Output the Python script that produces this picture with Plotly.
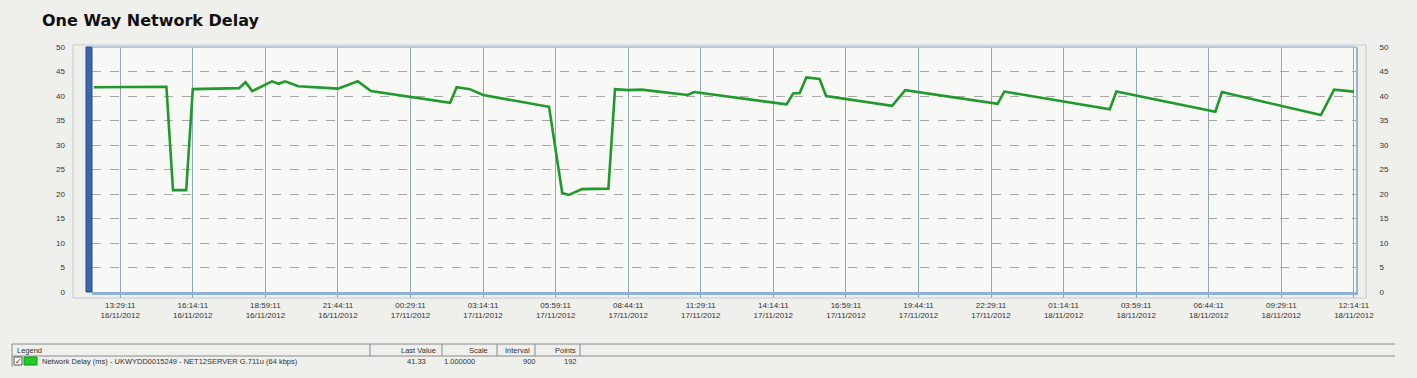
import plotly.graph_objects as go

# ---- data ----
times = [
    "2012-11-16 12:29:11", "2012-11-16 15:14:11", "2012-11-16 15:29:11", "2012-11-16 15:59:11",
    "2012-11-16 16:14:11", "2012-11-16 17:59:11", "2012-11-16 18:14:11", "2012-11-16 18:29:11",
    "2012-11-16 19:14:11", "2012-11-16 19:29:11", "2012-11-16 19:44:11", "2012-11-16 20:14:11",
    "2012-11-16 21:44:11", "2012-11-16 22:29:11", "2012-11-16 22:59:11", "2012-11-17 01:59:11",
    "2012-11-17 02:14:11", "2012-11-17 02:44:11", "2012-11-17 03:14:11", "2012-11-17 05:44:11",
    "2012-11-17 06:14:11", "2012-11-17 06:29:11", "2012-11-17 06:59:11", "2012-11-17 07:59:11",
    "2012-11-17 08:14:11", "2012-11-17 08:44:11", "2012-11-17 09:14:11", "2012-11-17 10:59:11",
    "2012-11-17 11:14:11", "2012-11-17 14:44:11", "2012-11-17 14:59:11", "2012-11-17 15:14:11",
    "2012-11-17 15:29:11", "2012-11-17 15:59:11", "2012-11-17 16:14:11", "2012-11-17 18:44:11",
    "2012-11-17 19:14:11", "2012-11-17 22:44:11", "2012-11-17 22:59:11", "2012-11-18 02:59:11",
    "2012-11-18 03:14:11", "2012-11-18 06:59:11", "2012-11-18 07:14:11", "2012-11-18 10:59:11",
    "2012-11-18 11:29:11", "2012-11-18 12:14:11",
]
delay_ms = [
    41.8, 41.9, 20.8, 20.8,
    41.4, 41.6, 42.8, 41.0,
    43.0, 42.5, 43.0, 42.0,
    41.5, 43.0, 41.0, 38.6,
    41.8, 41.4, 40.2, 37.8,
    20.2, 19.8, 21.0, 21.1,
    41.4, 41.2, 41.3, 40.2,
    40.8, 38.3, 40.5, 40.6,
    43.8, 43.5, 40.0, 38.0,
    41.2, 38.4, 40.9, 37.3,
    40.9, 36.8, 40.8, 36.1,
    41.3, 40.9,
]

tick_times = [
    "2012-11-16 13:29:11", "2012-11-16 16:14:11", "2012-11-16 18:59:11", "2012-11-16 21:44:11",
    "2012-11-17 00:29:11", "2012-11-17 03:14:11", "2012-11-17 05:59:11", "2012-11-17 08:44:11",
    "2012-11-17 11:29:11", "2012-11-17 14:14:11", "2012-11-17 16:59:11", "2012-11-17 19:44:11",
    "2012-11-17 22:29:11", "2012-11-18 01:14:11", "2012-11-18 03:59:11", "2012-11-18 06:44:11",
    "2012-11-18 09:29:11", "2012-11-18 12:14:11",
]
tick_labels = [
    "13:29:11<br>16/11/2012", "16:14:11<br>16/11/2012", "18:59:11<br>16/11/2012", "21:44:11<br>16/11/2012",
    "00:29:11<br>17/11/2012", "03:14:11<br>17/11/2012", "05:59:11<br>17/11/2012", "08:44:11<br>17/11/2012",
    "11:29:11<br>17/11/2012", "14:14:11<br>17/11/2012", "16:59:11<br>17/11/2012", "19:44:11<br>17/11/2012",
    "22:29:11<br>17/11/2012", "01:14:11<br>18/11/2012", "03:59:11<br>18/11/2012", "06:44:11<br>18/11/2012",
    "09:29:11<br>18/11/2012", "12:14:11<br>18/11/2012",
]
y_ticks = [0, 5, 10, 15, 20, 25, 30, 35, 40, 45, 50]

legend_series = "Network Delay (ms) - UKWYDD0015249 - NET12SERVER G.711u (64 kbps)"
legend_headers = ["Last Value", "Scale", "Interval", "Points"]
legend_values = ["41.33", "1.000000", "900", "192"]

# ---- layout geometry ----
WIDTH, HEIGHT = 1417, 378
L, R, T, B = 92, 61, 47, 86
PW = WIDTH - L - R
PH = HEIGHT - T - B


def px(x):
    return (x - L) / PW


def py(y):
    return (HEIGHT - B - y) / PH


GREEN = "#1f9a2b"
TXT = "#333333"
FONT = "Liberation Sans"

fig = go.Figure()
fig.add_trace(go.Scatter(
    x=times, y=delay_ms, mode="lines",
    line=dict(color=GREEN, width=2.6), showlegend=False, hoverinfo="x+y",
))
# same series on the right-hand axis (invisible) so the mirrored axis is drawn
fig.add_trace(go.Scatter(
    x=times, y=delay_ms, mode="lines", yaxis="y2",
    line=dict(color="rgba(0,0,0,0)", width=0), showlegend=False, hoverinfo="skip",
))

axis_font = dict(family=FONT, size=8, color=TXT)
fig.update_layout(
    width=WIDTH, height=HEIGHT,
    margin=dict(l=L, r=R, t=T, b=B),
    paper_bgcolor="#efefec",
    plot_bgcolor="#f8f8f6",
    xaxis=dict(
        type="date",
        range=["2012-11-16 12:25:00", "2012-11-18 12:19:00"],
        tickmode="array", tickvals=tick_times, ticktext=tick_labels,
        tickfont=axis_font, ticks="outside", ticklen=3, tickcolor="#7a9cc0",
        showgrid=True, gridcolor="#8ea6c0", gridwidth=1,
        showline=True, linecolor="#8fb2d4", linewidth=3,
        zeroline=False, fixedrange=True,
    ),
    yaxis=dict(
        range=[0, 50], tickmode="array", tickvals=y_ticks,
        tickfont=axis_font, ticklabelstandoff=26,
        showgrid=True, gridcolor="#a8a8a8", gridwidth=1, griddash="dash",
        showline=False, zeroline=False, fixedrange=True,
    ),
    yaxis2=dict(
        range=[0, 50], tickmode="array", tickvals=y_ticks, overlaying="y", side="right",
        tickfont=axis_font, ticklabelstandoff=20,
        showgrid=False, showline=True, linecolor="#9bb3c9", linewidth=2,
        zeroline=False, fixedrange=True,
    ),
)

shapes = []
# left 3D wall (blue band)
shapes.append(dict(type="rect", xref="paper", yref="paper", x0=px(86), x1=px(92), y0=0, y1=1,
                   fillcolor="#3b68ad", line=dict(color="#2d4f8a", width=1)))
# outer light frame
shapes.append(dict(type="rect", xref="paper", yref="paper", x0=px(73), x1=px(1366), y0=py(298), y1=py(45),
                   fillcolor="rgba(0,0,0,0)", line=dict(color="#c3ccd4", width=1)))
# top border of plot
shapes.append(dict(type="line", xref="paper", yref="paper", x0=0, x1=1, y0=1, y1=1,
                   line=dict(color="#a9bccd", width=1.5)))

# legend table lines
LINE = dict(color="#8a8a8a", width=1)
for yy in (344, 356):
    shapes.append(dict(type="line", xref="paper", yref="paper", x0=px(12), x1=px(1395),
                       y0=py(yy), y1=py(yy), line=LINE))
for xx in (12, 370, 442, 497, 535, 580):
    shapes.append(dict(type="line", xref="paper", yref="paper", x0=px(xx), x1=px(xx),
                       y0=py(344), y1=py(356), line=LINE))
shapes.append(dict(type="line", xref="paper", yref="paper", x0=px(12), x1=px(12),
                   y0=py(356), y1=py(367), line=LINE))
# checkbox and colour swatch
shapes.append(dict(type="rect", xref="paper", yref="paper", x0=px(14), x1=px(22), y0=py(365), y1=py(357),
                   fillcolor="#ffffff", line=dict(color="#555555", width=1)))
shapes.append(dict(type="rect", xref="paper", yref="paper", x0=px(24), x1=px(37), y0=py(365), y1=py(357),
                   fillcolor="#22cc22", line=dict(color="#119911", width=1)))
fig.update_layout(shapes=shapes)

ann = []
ann.append(dict(text="<b>One Way Network Delay</b>", xref="paper", yref="paper",
                x=px(40), y=py(20), xanchor="left", yanchor="middle", showarrow=False,
                font=dict(family="DejaVu Sans", size=16, color="#111111")))
small = dict(family=FONT, size=7.5, color=TXT)
ann.append(dict(text="Legend", xref="paper", yref="paper", x=px(15), y=py(350),
                xanchor="left", yanchor="middle", showarrow=False, font=small))
header_x = [438, 490, 517, 565]
header_anchor = ["right", "right", "center", "center"]
for h, hx, ha in zip(legend_headers, header_x, header_anchor):
    ann.append(dict(text=h, xref="paper", yref="paper", x=px(hx), y=py(350),
                    xanchor=ha, yanchor="middle", showarrow=False, font=small))
ann.append(dict(text="✓", xref="paper", yref="paper", x=px(18), y=py(361),
                xanchor="center", yanchor="middle", showarrow=False,
                font=dict(family="DejaVu Sans", size=8, color="#222222")))
ann.append(dict(text=legend_series, xref="paper", yref="paper", x=px(40), y=py(361),
                xanchor="left", yanchor="middle", showarrow=False, font=small))
value_x = [416, 459, 529, 570]
for v, vx in zip(legend_values, value_x):
    ann.append(dict(text=v, xref="paper", yref="paper", x=px(vx), y=py(361),
                    xanchor="center", yanchor="middle", showarrow=False, font=small))
fig.update_layout(annotations=ann)

fig.write_html("out.html")
